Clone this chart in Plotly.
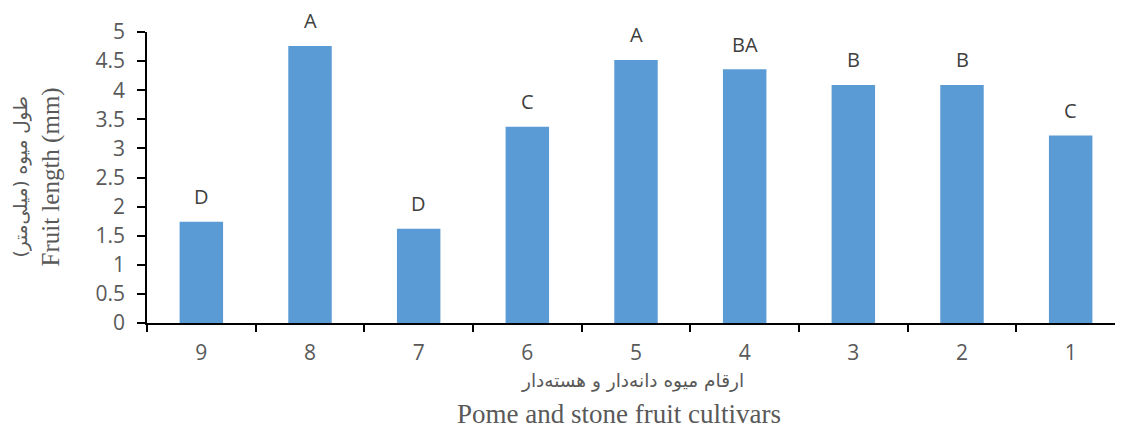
import plotly.graph_objects as go

# cultivar numbers (shown right-to-left as in the source) and mean fruit length
cultivars = ["9", "8", "7", "6", "5", "4", "3", "2", "1"]
fruit_length = [1.74, 4.76, 1.62, 3.37, 4.52, 4.36, 4.09, 4.09, 3.22]
groups = ["D", "A", "D", "C", "A", "BA", "B", "B", "C"]

y_ticks = [0, 0.5, 1, 1.5, 2, 2.5, 3, 3.5, 4, 4.5, 5]

BAR_COLOR = "#5B9BD5"
TEXT_COLOR = "#404040"
TITLE_COLOR = "#595959"
SANS = "Open Sans, DejaVu Sans, sans-serif"
SERIF = "Liberation Serif, Times New Roman, serif"
ARABIC = "DejaVu Sans, Noto Sans, sans-serif"

fig = go.Figure()
fig.add_trace(go.Bar(
    x=list(range(len(cultivars))), y=fruit_length,
    marker=dict(color=BAR_COLOR, line=dict(width=0)),
    width=0.4,
    hovertext=cultivars, hoverinfo="text+y",
))

# significance letters above each bar
for i, (v, g) in enumerate(zip(fruit_length, groups)):
    fig.add_annotation(
        x=i, y=v, text=g, showarrow=False,
        xref="x", yref="y", yanchor="middle", yshift=25,
        font=dict(size=20, color=TEXT_COLOR, family=SANS),
    )

# axis titles (Persian + English), as in the original figure
fig.add_annotation(
    text="طول میوه (میلی‌متر)", textangle=-90, showarrow=False,
    xref="paper", yref="paper", x=0, y=0.5, xanchor="center", yanchor="middle",
    xshift=-127,
    font=dict(size=18.5, color=TITLE_COLOR, family=ARABIC),
)
fig.add_annotation(
    text="Fruit length (mm)", textangle=-90, showarrow=False,
    xref="paper", yref="paper", x=0, y=0.5, xanchor="center", yanchor="middle",
    xshift=-97,
    font=dict(size=25, color=TITLE_COLOR, family=SERIF),
)
fig.add_annotation(
    text="ارقام میوه دانه‌دار و هسته‌دار", showarrow=False,
    xref="paper", yref="paper", x=0.5, y=0, xanchor="center", yanchor="middle",
    yshift=-57.5, xshift=-4,
    font=dict(size=18.5, color=TITLE_COLOR, family=ARABIC),
)
fig.add_annotation(
    text="Pome and stone fruit cultivars", showarrow=False,
    xref="paper", yref="paper", x=0.5, y=0, xanchor="center", yanchor="middle",
    yshift=-90.5, xshift=-17,
    font=dict(size=27, color=TITLE_COLOR, family=SERIF),
)

fig.update_layout(
    width=1123, height=430,
    margin=dict(l=139, r=6, t=24, b=114.5),
    paper_bgcolor="white", plot_bgcolor="white",
    showlegend=False,
    bargap=0.6,
)
fig.update_xaxes(
    range=[-0.5, 8.5],
    tickvals=list(range(len(cultivars))), ticktext=cultivars,
    showline=True, linecolor="black", linewidth=1.5,
    ticks="", showgrid=False, zeroline=False, ticklabelstandoff=10,
    tickfont=dict(size=21, color=TITLE_COLOR, family=SANS),
)
# boundary tick marks between categories
fig.update_layout(
    xaxis2=dict(
        overlaying="x", matches="x", side="bottom", anchor="y",
        tickvals=[i + 0.5 for i in range(-1, len(cultivars))],
        showticklabels=False, ticks="outside", ticklen=8,
        tickcolor="black", tickwidth=1.5, showgrid=False, showline=False,
        zeroline=False,
    )
)
fig.add_trace(go.Bar(x=[], y=[], xaxis="x2", showlegend=False, hoverinfo="skip"))
fig.update_yaxes(
    range=[0, 5], tickvals=y_ticks,
    showline=True, linecolor="black", linewidth=1.5,
    ticks="outside", ticklen=8, tickcolor="black", tickwidth=1.5,
    ticklabelstandoff=8,
    tickfont=dict(size=21, color=TITLE_COLOR, family=SANS),
    showgrid=False, zeroline=False,
)

fig.write_html("out.html")
